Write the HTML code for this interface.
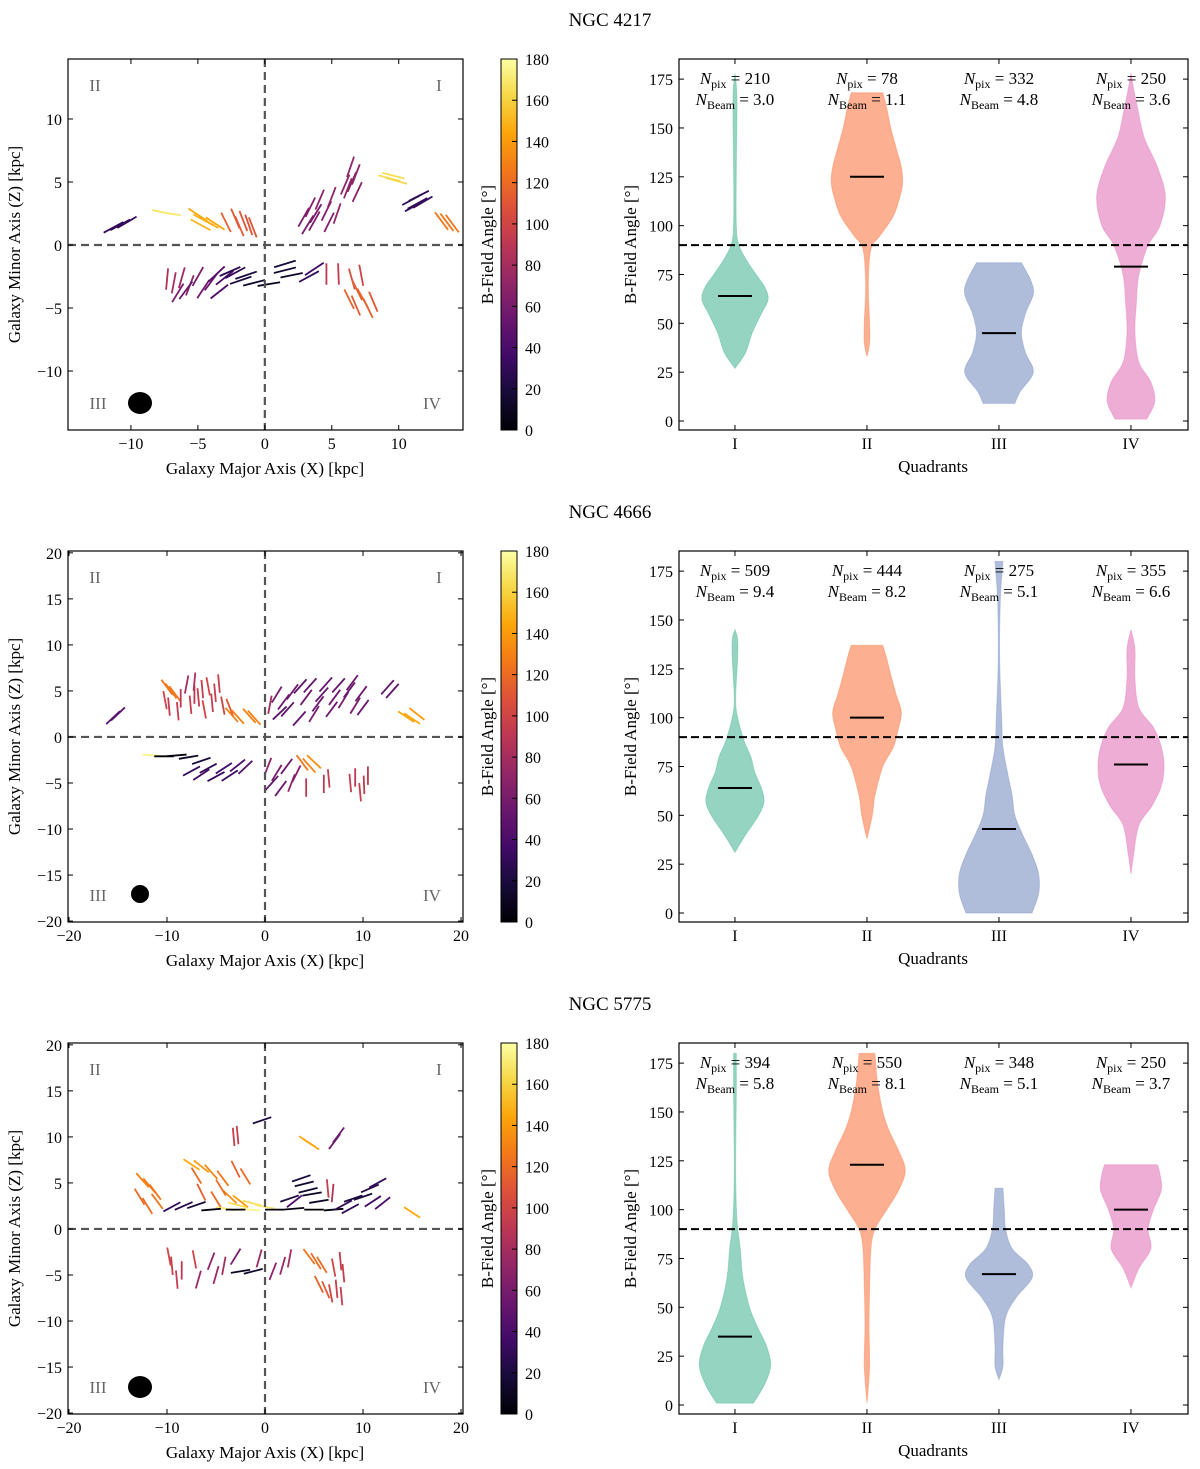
<!DOCTYPE html>
<html><head><meta charset="utf-8"><style>
body{margin:0;background:#fff}
svg text{font-family:"Liberation Serif",serif}
</style></head><body>
<svg id="fig" width="1200" height="1464" viewBox="0 0 1200 1464" xmlns="http://www.w3.org/2000/svg">
<defs>
<linearGradient id="inferno" x1="0" y1="1" x2="0" y2="0">
<stop offset="0" stop-color="#000004"/><stop offset="0.1" stop-color="#160b39"/><stop offset="0.2" stop-color="#420a68"/><stop offset="0.3" stop-color="#6a176e"/><stop offset="0.4" stop-color="#932667"/><stop offset="0.5" stop-color="#bc3754"/><stop offset="0.6" stop-color="#dd513a"/><stop offset="0.7" stop-color="#f37819"/><stop offset="0.8" stop-color="#fca50a"/><stop offset="0.9" stop-color="#f6d746"/><stop offset="1" stop-color="#fcffa4"/>
</linearGradient>
</defs>
</svg>
<script>
// ---- data ----
const galaxyNames = ["NGC 4217","NGC 4666","NGC 5775"];
const quadrantLabels = ["I","II","III","IV"];
const colorbarTicks = [0,20,40,60,80,100,120,140,160,180];
const violinYTicks = [0,25,50,75,100,125,150,175];
const mapTicksR1 = [-10,-5,0,5,10];
const mapXTicksR23 = [-20,-10,0,10,20];
const mapYTicksR23 = [-20,-15,-10,-5,0,5,10,15,20];
const npix = [[210,78,332,250],[509,444,275,355],[394,550,348,250]];
const nbeam = [["3.0","1.1","4.8","3.6"],["9.4","8.2","5.1","6.6"],["5.8","8.1","5.1","3.7"]];
const medians = [[64,125,45,79],[64,100,43,76],[35,123,67,100]];
const refLine = 90;
// violin profiles: [angle, half-width in category units]
const violinsR1 = [
 [[27,0],[35,0.08],[45,0.13],[55,0.2],[62,0.25],[68,0.23],[75,0.16],[82,0.09],[90,0.03],[100,0.01],[130,0.01],[165,0.015],[178,0]],
 [[33,0],[40,0.02],[50,0.02],[70,0.01],[88,0.03],[95,0.1],[105,0.2],[115,0.25],[122,0.27],[130,0.26],[140,0.22],[150,0.18],[160,0.15],[168,0.12]],
 [[9,0.12],[15,0.16],[25,0.26],[35,0.2],[45,0.17],[55,0.2],[65,0.26],[72,0.24],[81,0.17]],
 [[1,0.12],[10,0.18],[20,0.15],[30,0.06],[45,0.03],[60,0.04],[75,0.06],[90,0.13],[100,0.22],[115,0.26],[130,0.2],[145,0.1],[160,0.05],[170,0.02],[178,0]]];
const violinsR2 = [
 [[31,0],[40,0.08],[50,0.18],[57,0.22],[64,0.2],[72,0.15],[80,0.12],[88,0.07],[100,0.02],[110,0.005],[130,0.02],[140,0.02],[145,0]],
 [[38,0],[50,0.04],[60,0.06],[75,0.12],[85,0.2],[95,0.24],[103,0.26],[112,0.22],[122,0.18],[130,0.15],[137,0.12]],
 [[0,0.25],[10,0.3],[20,0.3],[30,0.25],[40,0.18],[50,0.12],[60,0.1],[70,0.07],[85,0.03],[100,0.02],[130,0.005],[160,0.01],[180,0.03]],
 [[20,0],[30,0.02],[45,0.06],[55,0.16],[65,0.23],[75,0.25],[85,0.23],[95,0.17],[105,0.06],[120,0.03],[135,0.03],[145,0]]];
const violinsR3 = [
 [[1,0.14],[10,0.22],[20,0.27],[30,0.24],[40,0.17],[50,0.11],[65,0.06],[80,0.04],[95,0.015],[120,0.005],[160,0.01],[180,0.01]],
 [[1,0],[20,0.02],[40,0.015],[60,0.02],[80,0.03],[90,0.06],[100,0.15],[110,0.24],[120,0.29],[130,0.24],[140,0.17],[150,0.12],[165,0.08],[180,0.06]],
 [[13,0],[20,0.03],[30,0.03],[45,0.05],[55,0.13],[65,0.25],[72,0.22],[80,0.1],[90,0.05],[100,0.04],[111,0.03]],
 [[60,0],[70,0.06],[80,0.15],[90,0.13],[100,0.17],[110,0.23],[118,0.22],[123,0.2]]];
// polarization vectors: [x kpc, z kpc, angle deg]
const vectorsR1 = [[-11.3,1.4,30],[-10.8,1.6,30],[-10.3,1.8,32],[-7.6,2.6,168],[-7.1,2.5,170],[-5,2.4,145],[-4.6,2,150],[-4.2,1.8,148],[-3.7,1.7,145],[-4.8,1.6,150],
[-2.9,1.8,115],[-2.2,2.1,112],[-1.6,1.9,110],[-1.2,1.6,108],[-0.9,1.4,110],[-1.9,1.5,112],
[2.9,2.2,62],[3.4,3,65],[3.8,2.5,60],[4.1,3.6,68],[4.6,2.7,65],[5,3.8,70],[5.4,2.5,72],[3.2,1.6,60],[4.8,1.8,65],[3.7,1.9,62],
[6.2,4.5,70],[6.5,5,68],[6.8,5.6,70],[6.4,6.2,72],[6.9,4.2,66],[6,4.8,68],[9.3,5.3,165],[9.8,5.1,163],[9.6,5.5,165],
[11,3.6,30],[11.5,3.9,28],[11.2,3.1,30],[11.8,3.4,32],[11.4,3.3,30],[13.2,1.9,125],[13.6,1.8,125],[14,1.7,125],
[-7.3,-2.7,85],[-6.8,-3,80],[-6.2,-2.6,75],[-5.6,-3.2,70],[-5,-2.5,62],[-4.6,-3.5,58],[-4,-2.9,55],[-3.6,-2.3,45],[-3,-2.6,40],[-3.4,-3.7,40],[-2.2,-2.2,30],[-1.4,-2.4,20],[-0.8,-3,15],[0.3,-3.1,10],[1.5,-2,15],[2,-2.4,12],[1.5,-1.5,18],[3.3,-2.5,30],[3.7,-1.9,35],[4.6,-2.3,90],[5.5,-2.3,92],[6.5,-2.7,105],[7.2,-2.4,100],
[-6.5,-3.8,60],[-5.9,-3.6,55],[-2.6,-2.1,25],[-1.8,-2.8,20],
[6.3,-4.3,115],[6.8,-4.8,112],[7.3,-4.2,118],[7.7,-5,115],[8.1,-4.5,112],[6.9,-3.6,115]];
const vectorsR2 = [[-15.5,2.1,45],[-15,2.5,45],[-10,5.4,125],[-9.6,5,125],[-9.2,4.7,125],[-10.2,4,100],[-9.8,3.3,95],
[-8.6,4.2,90],[-8,5.7,80],[-7.6,3.5,95],[-7.2,6,85],[-6.8,4.3,95],[-6.2,3,100],[-5.8,5.5,100],[-5.4,3.7,95],[-4.7,5.8,95],[-4.3,3.4,100],[-3.6,3.2,110],
[-8.9,2.8,95],[-7.2,4.6,90],[-6.4,5.2,95],[-5.1,4.8,95],
[-3.4,2.4,130],[-2.8,2.2,130],[-1.6,2.3,130],[-1.1,2.1,130],
[0.5,3.5,80],[1.2,4.6,60],[1.5,2.6,45],[2.3,3,50],[2.8,4.9,55],[3.5,2,50],[4.2,4.3,55],[4.6,5.6,50],[5,2.5,60],[5.8,4.6,50],[6.2,5.7,50],[6.8,3,55],[7.5,5.6,50],[8,4,60],[8.6,5.1,55],[9.2,3.4,60],[9.8,4.7,55],[10,3.2,55],[12.5,5.4,50],[13,5,50],
[1.9,3.8,55],[3.6,5.5,50],[5.4,3.6,55],[7.1,4.3,55],[8.9,5.9,55],
[14.4,2.2,145],[15,2,145],[15.5,2.5,140],
[-11.5,-2,175],[-10.3,-2.1,0],[-9,-2,5],[-7.8,-2.2,10],[-6.5,-2.6,20],[-7.5,-3.7,30],[-6.5,-4.1,35],[-5.8,-3.4,30],[-5,-4.3,30],[-4.2,-3.4,35],[-3.6,-4.2,35],[-2.8,-3.1,40],[-2,-3.3,45],
[0.3,-3.2,70],[0.7,-5,50],[1.2,-3.9,60],[1.6,-5.6,55],[2.2,-3.2,55],[2.7,-5,70],[3.2,-4,65],[3.8,-2.8,125],[4.5,-3.1,130],[5,-2.7,135],[4.2,-5.5,90],
[6,-5.1,90],[6.5,-4.5,95],[8.7,-5,95],[9.2,-4.4,90],[9.7,-6,95],[10.1,-5.2,92],[10.5,-4.2,90]];
const vectorsR3 = [[-0.3,11.8,20],[-2.8,10.2,95],[-3.2,10,95],[4.3,9.5,145],[4.7,9.2,145],[7.5,10.2,55],[7.1,9.5,55],
[-12.5,5.3,130],[-11.8,4.7,128],[-11.2,4,125],[-12.8,3.5,120],[-12,2.5,120],[-11,3,125],
[-7.5,7,145],[-6.5,6.8,140],[-5.5,6.2,130],[-4.3,5.5,125],[-3,6.5,115],[-2,5.7,120],[-6.5,4,115],[-5,3.2,120],[-3.6,3.5,135],[-2.5,3,140],[-7,5.8,120],[-4.5,4.5,120],
[-2.8,2.6,165],[-1.3,2.8,165],[0,2.4,170],[-4,2.2,170],[-1.5,2.1,175],
[-9.5,2.4,30],[-8.3,2.5,25],[-7,2.6,20],[-5.5,2.1,5],[-3,2.1,0],[1,2.1,0],[3,2.2,5],[5,2.1,0],[7,2.1,5],
[3.7,5.5,20],[4,4.9,15],[4.4,4.2,15],[4.8,3.8,10],[3,3,40],[5.5,3,10],[2.5,3.3,20],[6.4,4.4,95],[6.9,3.9,85],
[8,2.6,30],[9,3.3,20],[10,3.5,20],[10.7,4.4,25],[11.5,5,30],[11,3,35],[12,2.8,40],[8.7,2.2,30],[15,1.8,145],
[-9.5,-4,95],[-9,-5.5,95],[-9.8,-3,100],[-8.5,-4.5,90],[-7.2,-3.3,100],[-6.8,-5.5,75],[-5.5,-3.5,70],[-5,-5,75],[-4.2,-4,80],[-3,-3,60],[-2.5,-4.6,10],[-1.2,-4.6,15],[-0.6,-3.2,75],[0.8,-4.6,70],[1.8,-4,75],[2.5,-3.2,80],
[4.5,-3,125],[5.2,-3.5,120],[5.8,-3.9,120],[7,-4.2,100],[7.7,-3.5,95],[8,-4.8,95],[5.5,-6,115],[6.2,-6.6,112],[7.3,-6.5,95],[7.8,-7.3,95],[6.7,-7,100]];

const allViolins=[violinsR1,violinsR2,violinsR3];
const allVectors=[vectorsR1,vectorsR2,vectorsR3];

// ---- rendering ----
const svg=document.getElementById('fig');
const NS='http://www.w3.org/2000/svg';
function mk(tag,attrs,parent){const e=document.createElementNS(NS,tag);for(const k in attrs)e.setAttribute(k,attrs[k]);(parent||svg).appendChild(e);return e;}
function txt(s,x,y,size,anchor,parent,extra){const t=mk('text',Object.assign({x:x,y:y,'font-size':size,'text-anchor':anchor||'middle'},extra||{}),parent);t.textContent=s;return t;}
const infStops=['#000004','#160b39','#420a68','#6a176e','#932667','#bc3754','#dd513a','#f37819','#fca50a','#f6d746','#fcffa4'];
function hex(c){return [1,3,5].map(i=>parseInt(c.substr(i,2),16));}
function inferno(v){let t=Math.max(0,Math.min(1,v/180))*10;let i=Math.min(9,Math.floor(t));let f=t-i;const a=hex(infStops[i]),b=hex(infStops[i+1]);return 'rgb('+a.map((x,k)=>Math.round(x+(b[k]-x)*f)).join(',')+')';}
const vColors=['#66c2a5','#fc8d62','#8da0cb','#e78ac3'];
// smooth curve through points (Catmull-Rom -> Bezier)
function smoothSeg(p){let d='';for(let i=0;i<p.length-1;i++){const p0=p[Math.max(0,i-1)],p1=p[i],p2=p[i+1],p3=p[Math.min(p.length-1,i+2)];
 const c1=[p1[0]+(p2[0]-p0[0])/6,p1[1]+(p2[1]-p0[1])/6],c2=[p2[0]-(p3[0]-p1[0])/6,p2[1]-(p3[1]-p1[1])/6];
 d+=' C'+c1[0].toFixed(1)+','+c1[1].toFixed(1)+' '+c2[0].toFixed(1)+','+c2[1].toFixed(1)+' '+p2[0].toFixed(1)+','+p2[1].toFixed(1);}return d;}

for(let r=0;r<3;r++){
  const oy=492*r;
  const top=59+oy,bot=430+oy;
  const title=txt(galaxyNames[r],610,26+oy,19);
  
  
  // ---- map panel ----
  const g=mk('g',{});
  
  
  const L=68,R=463;
  const xd=r==0?[-14.7,14.8]:[-20.1,20.2];
  const yd=r==0?[-14.68,14.76]:[-20.1,20.2];
  const sx=v=>L+(v-xd[0])/(xd[1]-xd[0])*(R-L);
  const sy=v=>bot-(v-yd[0])/(yd[1]-yd[0])*(bot-top);
  const len=r==0?1.7:2.0;
  allVectors[r].forEach(d=>{
    const a=d[2]*Math.PI/180,dx=Math.cos(a)*len/2,dy=Math.sin(a)*len/2;
    const l=mk('line',{x1:sx(d[0]-dx),y1:sy(d[1]-dy),x2:sx(d[0]+dx),y2:sy(d[1]+dy),stroke:inferno(d[2]),'stroke-width':1.8},g);
    
    
  });
  mk('line',{x1:sx(0),x2:sx(0),y1:top,y2:bot,stroke:'#555','stroke-width':2.2,'stroke-dasharray':'8,5'},g);
  mk('line',{x1:L,x2:R,y1:sy(0),y2:sy(0),stroke:'#555','stroke-width':2.2,'stroke-dasharray':'8,5'},g);
  const qs=[['II',95,91],['I',439,91],['III',98,409],['IV',432,409]];
  qs.forEach(q=>{const t=txt(q[0],q[1],q[2]+oy,17,'middle',g,{fill:'#666'});});
  const beam=mk('ellipse',{cx:140,cy:(r==1?894:403)+oy-(r==1?492:0),rx:r==1?9:12,ry:r==1?9:11,fill:'#000'},g);
  
  
  mk('rect',{x:L,y:top,width:R-L,height:bot-top,fill:'none',stroke:'#000','stroke-width':1.2},g);
  const xt=r==0?mapTicksR1:mapXTicksR23, yt=r==0?mapTicksR1:mapYTicksR23;
  xt.forEach(v=>{const x=sx(v);mk('line',{x1:x,x2:x,y1:bot,y2:bot-5,stroke:'#000'},g);mk('line',{x1:x,x2:x,y1:top,y2:top+5,stroke:'#000'},g);txt(v<0?'\u2212'+(-v):''+v,x,bot+19,16,'middle',g);});
  yt.forEach(v=>{const y=sy(v);mk('line',{x1:L,x2:L+5,y1:y,y2:y,stroke:'#000'},g);mk('line',{x1:R,x2:R-5,y1:y,y2:y,stroke:'#000'},g);txt(v<0?'\u2212'+(-v):''+v,L-6,y+6,16,'end',g);});
  const xl=txt('Galaxy Major Axis (X) [kpc]',265,bot+44,17,'middle',g);
  
  const yl=txt('Galaxy Minor Axis (Z) [kpc]',0,0,17,'middle',g,{transform:'translate(20,'+(top+bot)/2+') rotate(-90)'});
  
  // colorbar
  const cb=mk('g',{});
  
  
  mk('rect',{x:501,y:top,width:16,height:bot-top,fill:'url(#inferno)',stroke:'#000','stroke-width':1},cb);
  colorbarTicks.forEach(v=>{const y=bot-v/180*(bot-top);mk('line',{x1:517,x2:512,y1:y,y2:y,stroke:'#000'},cb);txt(''+v,525,y+6,16,'start',cb);});
  txt('B-Field Angle [\u00b0]',0,0,17,'middle',cb,{transform:'translate(493,'+(top+bot)/2+') rotate(-90)'});
  // ---- violin panel ----
  const vg=mk('g',{});
  
  
  const VL=679,VR=1188;
  const cx=c=>VL+(c-0.576)/(4.432-0.576)*(VR-VL);
  const vy=v=>bot-(v+4.6)/(185.3+4.6)*(bot-top);
  const cw=(VR-VL)/(4.432-0.576);
  allViolins[r].forEach((prof,i)=>{
    const c=i+1;
    const right=prof.map(p=>[cx(c)+p[1]*cw,vy(p[0])]);
    const left=prof.slice().reverse().map(p=>[cx(c)-p[1]*cw,vy(p[0])]);
    const d='M'+right[0][0].toFixed(1)+','+right[0][1].toFixed(1)+smoothSeg(right)+' L'+left[0][0].toFixed(1)+','+left[0][1].toFixed(1)+smoothSeg(left)+' Z';
    const poly=mk('path',{d:d,fill:vColors[i],'fill-opacity':0.7,stroke:vColors[i],'stroke-opacity':0.5},vg);
    
    
    const m=mk('line',{x1:cx(c)-17,x2:cx(c)+17,y1:vy(medians[r][i]),y2:vy(medians[r][i]),stroke:'#000','stroke-width':2},vg);
    
    
    const a1=mk('text',{x:cx(c),y:84+oy,'font-size':17,'text-anchor':'middle'},vg);
    a1.innerHTML='<tspan font-style="italic">N</tspan><tspan font-size="12" dy="4">pix</tspan><tspan dy="-4"> = '+npix[r][i]+'</tspan>';
    
    const a2=mk('text',{x:cx(c),y:105+oy,'font-size':17,'text-anchor':'middle'},vg);
    a2.innerHTML='<tspan font-style="italic">N</tspan><tspan font-size="12" dy="4">Beam</tspan><tspan dy="-4"> = '+nbeam[r][i]+'</tspan>';
    
  });
  const rl=mk('line',{x1:VL,x2:VR,y1:vy(refLine),y2:vy(refLine),stroke:'#000','stroke-width':2,'stroke-dasharray':'8,4'},vg);
  
  mk('rect',{x:VL,y:top,width:VR-VL,height:bot-top,fill:'none',stroke:'#000','stroke-width':1.2},vg);
  violinYTicks.forEach(v=>{const y=vy(v);mk('line',{x1:VL,x2:VL+5,y1:y,y2:y,stroke:'#000'},vg);mk('line',{x1:VR,x2:VR-5,y1:y,y2:y,stroke:'#000'},vg);txt(''+v,VL-6,y+6,16,'end',vg);});
  quadrantLabels.forEach((q,i)=>{const x=cx(i+1);mk('line',{x1:x,x2:x,y1:bot,y2:bot-5,stroke:'#000'},vg);mk('line',{x1:x,x2:x,y1:top,y2:top+5,stroke:'#000'},vg);txt(q,x,bot+19,16,'middle',vg);});
  const qx=txt('Quadrants',933,bot+42,17,'middle',vg);
  
  const qy=txt('B-Field Angle [\u00b0]',0,0,17,'middle',vg,{transform:'translate(636,'+(top+bot)/2+') rotate(-90)'});
  
}
</script>
</body></html>
